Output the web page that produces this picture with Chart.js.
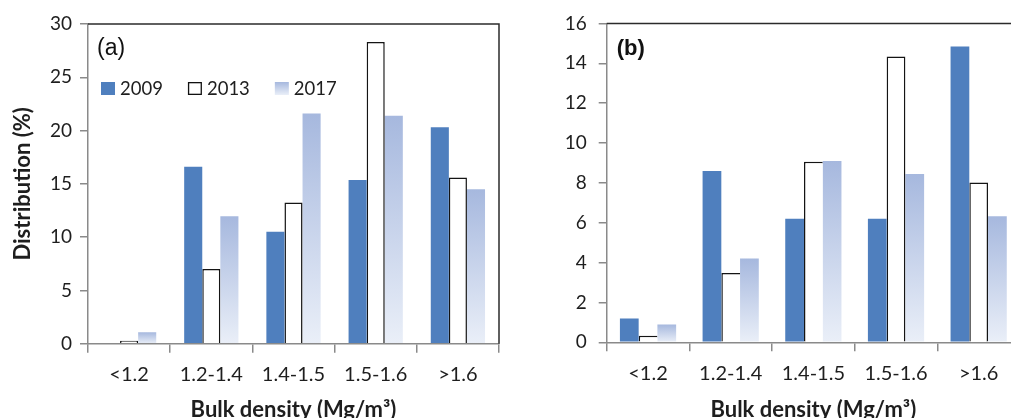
<!DOCTYPE html>
<html>
<head>
<meta charset="utf-8">
<script src="https://cdn.jsdelivr.net/npm/chart.js@4/dist/chart.umd.min.js"></script>
<style>
  html, body { margin: 0; padding: 0; background: #fff; overflow: hidden; width: 1011px; height: 418px; }
  #wrap { position: relative; width: 1011px; height: 418px; overflow: hidden; }
  canvas { position: absolute; top: 0; }
  #ca { left: 0; }
  #cb { left: 548px; }
</style>
</head>
<body>
<div id="wrap">
  <canvas id="ca" width="540" height="423" style="width:540px;height:423px"></canvas>
  <canvas id="cb" width="500" height="423" style="width:500px;height:423px"></canvas>
</div>
<script>
// ---- data ----
const categories = ['<1.2', '1.2-1.4', '1.4-1.5', '1.5-1.6', '>1.6'];
const seriesNames = ['2009', '2013', '2017'];

const a2009 = [0, 16.6, 10.5, 15.35, 20.3];
const a2013 = [0.28, 7.0, 13.25, 28.3, 15.6];
const a2017 = [1.07, 11.97, 21.6, 21.4, 14.5];

const b2009 = [1.2, 8.6, 6.2, 6.2, 14.84];
const b2013 = [0.33, 3.48, 9.06, 14.34, 8.02];
const b2017 = [0.89, 4.21, 9.09, 8.45, 6.32];

const aAxis = { min: 0, max: 30, step: 5 };
const bAxis = { min: 0, max: 16, step: 2 };

const xTitle = 'Bulk density (Mg/m³)';
const yTitle = 'Distribution (%)';

// ---- styles ----
const FONT = 'Lato, "Open Sans", sans-serif';
const PANEL_FONT = '"Liberation Sans", Arial, sans-serif';
const TEXT = '#1e1e1e';
const AXIS = '#8a8a8a';
const BLUE = '#4f7fbe';
const G_TOP = '#a6b8de';
const G_BOT = '#eaeff8';

function grad2017(ctx) {
  const chart = ctx.chart;
  if (!chart.chartArea || ctx.type !== 'data' || !chart.scales.y) return '#c0cdea';
  const y = chart.scales.y;
  const top = y.getPixelForValue(ctx.raw);
  const bot = y.getPixelForValue(0);
  if (!isFinite(top) || !isFinite(bot) || Math.abs(bot - top) < 0.5) return G_TOP;
  const g = chart.ctx.createLinearGradient(0, top, 0, bot);
  g.addColorStop(0, G_TOP);
  g.addColorStop(1, G_BOT);
  return g;
}

const deco = {
  id: 'deco',
  afterDraw(chart, args, o) {
    const { ctx, chartArea: a } = chart;
    ctx.save();
    // top & right frame
    ctx.strokeStyle = '#2b2b2b';
    ctx.lineWidth = 1.5;
    ctx.beginPath();
    ctx.moveTo(a.left, a.top);
    ctx.lineTo(a.right, a.top);
    ctx.lineTo(a.right, a.bottom);
    ctx.stroke();
    // panel label
    ctx.fillStyle = '#111';
    ctx.font = o.panelFont;
    ctx.textBaseline = 'middle';
    ctx.textAlign = 'left';
    ctx.fillText(o.panel, a.left + o.panelDx, o.panelY);
    // legend
    if (o.legend) {
      ctx.font = '18.5px ' + FONT;
      ctx.fillStyle = TEXT;
      let x = a.left + 13;
      const yc = o.legendY;
      const ds = chart.data.datasets;
      for (let i = 0; i < ds.length; i++) {
        const bx = x, by = yc - 6.5, bw = 14, bh = 13;
        if (i === 0) {
          ctx.fillStyle = BLUE; ctx.fillRect(bx, by, bw, bh);
        } else if (i === 1) {
          ctx.fillStyle = '#fff'; ctx.fillRect(bx, by, bw, bh);
          ctx.strokeStyle = '#111'; ctx.lineWidth = 1.3;
          ctx.strokeRect(bx + 0.65, by + 0.65, bw - 1.3, bh - 1.3);
        } else {
          const g = ctx.createLinearGradient(0, by, 0, by + bh);
          g.addColorStop(0, G_TOP); g.addColorStop(1, G_BOT);
          ctx.fillStyle = g; ctx.fillRect(bx, by, bw, bh);
        }
        ctx.fillStyle = TEXT;
        const tx = bx + 19;
        ctx.fillText(ds[i].label, tx, yc + 1);
        x = tx + ctx.measureText(ds[i].label).width + 25;
      }
    }
    ctx.restore();
  }
};

function makeChart(id, d09, d13, d17, axis, opt) {
  return new Chart(document.getElementById(id), {
    type: 'bar',
    data: {
      labels: categories,
      datasets: [
        { label: seriesNames[0], data: d09, backgroundColor: BLUE, borderWidth: 0 },
        { label: seriesNames[1], data: d13, backgroundColor: '#ffffff', borderColor: '#141414',
          borderWidth: opt.border13, borderSkipped: 'start' },
        { label: seriesNames[2], data: d17, backgroundColor: grad2017, borderWidth: 0 }
      ]
    },
    options: {
      responsive: false,
      animation: false,
      devicePixelRatio: 1,
      layout: { padding: { left: 0, top: opt.top, right: opt.right, bottom: 0 } },
      datasets: { bar: { categoryPercentage: opt.catPct, barPercentage: 1 } },
      plugins: {
        legend: { display: false },
        tooltip: { enabled: false },
        deco: opt.deco
      },
      scales: {
        x: {
          offset: true,
          grid: { offset: true, drawOnChartArea: false, drawTicks: true, tickLength: 9, color: AXIS, lineWidth: 1.5 },
          border: { display: true, color: AXIS, width: 1.5 },
          ticks: { color: TEXT, font: { family: FONT, size: 20 }, padding: 10, maxRotation: 0, autoSkip: false },
          title: { display: true, text: xTitle, color: TEXT, font: { family: FONT, size: 22, weight: 'bold' }, padding: { top: 0, bottom: 0 } },
          afterFit: s => { s.height = opt.xH; }
        },
        y: {
          min: axis.min, max: axis.max,
          grid: { drawOnChartArea: false, drawTicks: true, tickLength: 8, color: AXIS, lineWidth: 1.5 },
          border: { display: true, color: AXIS, width: 1.5 },
          ticks: { stepSize: axis.step, color: TEXT, font: { family: FONT, size: 19 }, padding: opt.yPad },
          title: { display: opt.yTitle, text: yTitle, color: TEXT, font: { family: FONT, size: 22, weight: 'bold' }, padding: { top: 10, bottom: 0 } },
          afterFit: s => { s.width = opt.yW; }
        }
      }
    },
    plugins: [deco]
  });
}

makeChart('ca', a2009, a2013, a2017, aAxis, {
  top: 24, right: 41, xH: 79.3, yW: 88, yPad: 8, catPct: 0.66, yTitle: true,
  border13: { top: 1.5, left: 1.5, right: 1.5, bottom: 0 },
  deco: { panel: '(a)', panelFont: '23px ' + PANEL_FONT, panelDx: 9, panelY: 48.5, legend: true, legendY: 88.5 }
});

makeChart('cb', b2009, b2013, b2017, bAxis, {
  top: 19.3, right: 28, xH: 80.7, yW: 58.7, yPad: 12, catPct: 0.68, yTitle: false,
  border13: (ctx) => {
    const i = ctx.dataIndex;
    const covered = b2017[i] >= b2013[i];
    return { top: 1.5, left: 1.5, right: covered ? 0 : 1.5, bottom: 0 };
  },
  deco: { panel: '(b)', panelFont: 'bold 22px ' + PANEL_FONT, panelDx: 10, panelY: 48.5, legend: false }
});
</script>
</body>
</html>
